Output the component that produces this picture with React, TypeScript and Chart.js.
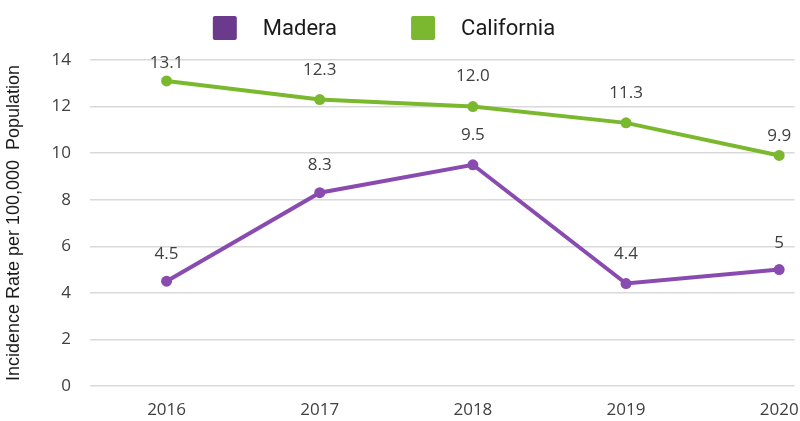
import React, { useEffect, useRef } from "react";
import { Chart, registerables } from "chart.js";

Chart.register(...registerables);

const years = [2016, 2017, 2018, 2019, 2020];
const madera = [4.5, 8.3, 9.5, 4.4, 5];
const california = [13.1, 12.3, 12.0, 11.3, 9.9];
const maderaLabels = ["4.5", "8.3", "9.5", "4.4", "5"];
const californiaLabels = ["13.1", "12.3", "12.0", "11.3", "9.9"];
const maderaLabelOffsets = [27, 28, 30, 29, 26];
const californiaLabelOffsets = [18, 29, 30, 30, 19];
const yTicks = [0, 2, 4, 6, 8, 10, 12, 14];

const PURPLE_LINE = "#8a4bb0";
const PURPLE_BOX = "#6b3a8c";
const GREEN_LINE = "#7ab82e";
const GREEN_BOX = "#7cb82f";
const TEXT = "#404040";
const FONT = "'Open Sans', 'Noto Sans', sans-serif";

const labelPlugin = {
  id: "pointLabels",
  afterDatasetsDraw(chart: any) {
    const ctx = chart.ctx;
    const sets = [
      { labels: maderaLabels, offsets: maderaLabelOffsets },
      { labels: californiaLabels, offsets: californiaLabelOffsets },
    ];
    ctx.save();
    ctx.font = `17px ${FONT}`;
    ctx.fillStyle = TEXT;
    ctx.textAlign = "center";
    ctx.textBaseline = "middle";
    sets.forEach((s, di) => {
      const meta = chart.getDatasetMeta(di);
      meta.data.forEach((el: any, i: number) => {
        ctx.fillText(s.labels[i], el.x, el.y - s.offsets[i]);
      });
    });
    ctx.restore();
  },
};

// custom legend: square swatch, wide gap, text
const legendPlugin = {
  id: "customLegend",
  afterDraw(chart: any) {
    const ctx = chart.ctx;
    const items = chart.data.datasets.map((d: any) => ({ text: d.label, color: d.backgroundColor }));
    const box = 24;
    const gapText = 26;
    const gapItem = 74;
    ctx.save();
    ctx.font = "22px Roboto, 'Noto Sans', sans-serif";
    const widths = items.map((it: any) => box + gapText + ctx.measureText(it.text).width);
    const total = widths.reduce((a: number, b: number) => a + b, 0) + gapItem * (items.length - 1);
    let x = chart.width / 2 - 16 - total / 2;
    const cy = 28;
    items.forEach((it: any, i: number) => {
      ctx.fillStyle = it.color;
      ctx.beginPath();
      (ctx as any).roundRect ? (ctx as any).roundRect(x, cy - 12, box, box, 2) : ctx.rect(x, cy - 12, box, box);
      ctx.fill();
      ctx.fillStyle = "#1a1a1a";
      ctx.textAlign = "left";
      ctx.textBaseline = "middle";
      ctx.fillText(it.text, x + box + gapText, cy + 1);
      x += widths[i] + gapItem;
    });
    ctx.restore();
  },
};

export default function App() {
  const ref = useRef<HTMLCanvasElement | null>(null);
  useEffect(() => {
    document.body.style.margin = "0";
    const chart = new Chart(ref.current as HTMLCanvasElement, {
      type: "line",
      data: {
        datasets: [
          {
            label: "Madera",
            data: years.map((y, i) => ({ x: y, y: madera[i] })),
            borderColor: PURPLE_LINE,
            backgroundColor: PURPLE_BOX,
            pointBackgroundColor: PURPLE_LINE,
            pointBorderColor: PURPLE_LINE,
            borderWidth: 4,
            pointRadius: 5.5,
            pointBorderWidth: 0,
          },
          {
            label: "California",
            data: years.map((y, i) => ({ x: y, y: california[i] })),
            borderColor: GREEN_LINE,
            backgroundColor: GREEN_BOX,
            pointBackgroundColor: GREEN_LINE,
            pointBorderColor: GREEN_LINE,
            borderWidth: 4,
            pointRadius: 5.5,
            pointBorderWidth: 0,
          },
        ],
      },
      options: {
        animation: false,
        responsive: false,
        layout: { padding: { left: 0, right: 0, top: 60, bottom: 0 } },
        plugins: {
          tooltip: { enabled: false },
          legend: { display: false },
        },
        scales: {
          x: {
            type: "linear",
            min: 2015.5,
            max: 2020.1,
            afterBuildTicks: (axis: any) => {
              axis.ticks = years.map((v) => ({ value: v }));
            },
            afterFit: (axis: any) => {
              axis.height = 35;
              axis.paddingLeft = 0;
              axis.paddingRight = 0;
            },
            ticks: {
              color: TEXT,
              font: { size: 17, family: FONT },
              padding: 14,
              maxRotation: 0,
              callback: (v: any) => String(v),
            },
            grid: { display: false, drawTicks: false },
            border: { display: false },
          },
          y: {
            min: 0,
            max: 14,
            afterBuildTicks: (axis: any) => {
              axis.ticks = yTicks.map((v) => ({ value: v }));
            },
            afterFit: (axis: any) => {
              axis.width = 90;
            },
            ticks: {
              color: TEXT,
              font: { size: 17, family: FONT },
              padding: 19,
            },
            grid: { color: "#d9d9d9", lineWidth: 1.5, drawTicks: false },
            border: { display: false },
            title: {
              display: true,
              text: "Incidence Rate per 100,000  Population",
              color: "#1a1a1a",
              font: { size: 18, family: "'Liberation Sans', Arial, sans-serif" },
              padding: { top: 3, bottom: 8 },
            },
          },
        },
      },
      plugins: [labelPlugin, legendPlugin],
    });
    return () => chart.destroy();
  }, []);
  return (
    <div style={{ width: 800, height: 421 }}>
      <canvas ref={ref} width={800} height={421} />
    </div>
  );
}
